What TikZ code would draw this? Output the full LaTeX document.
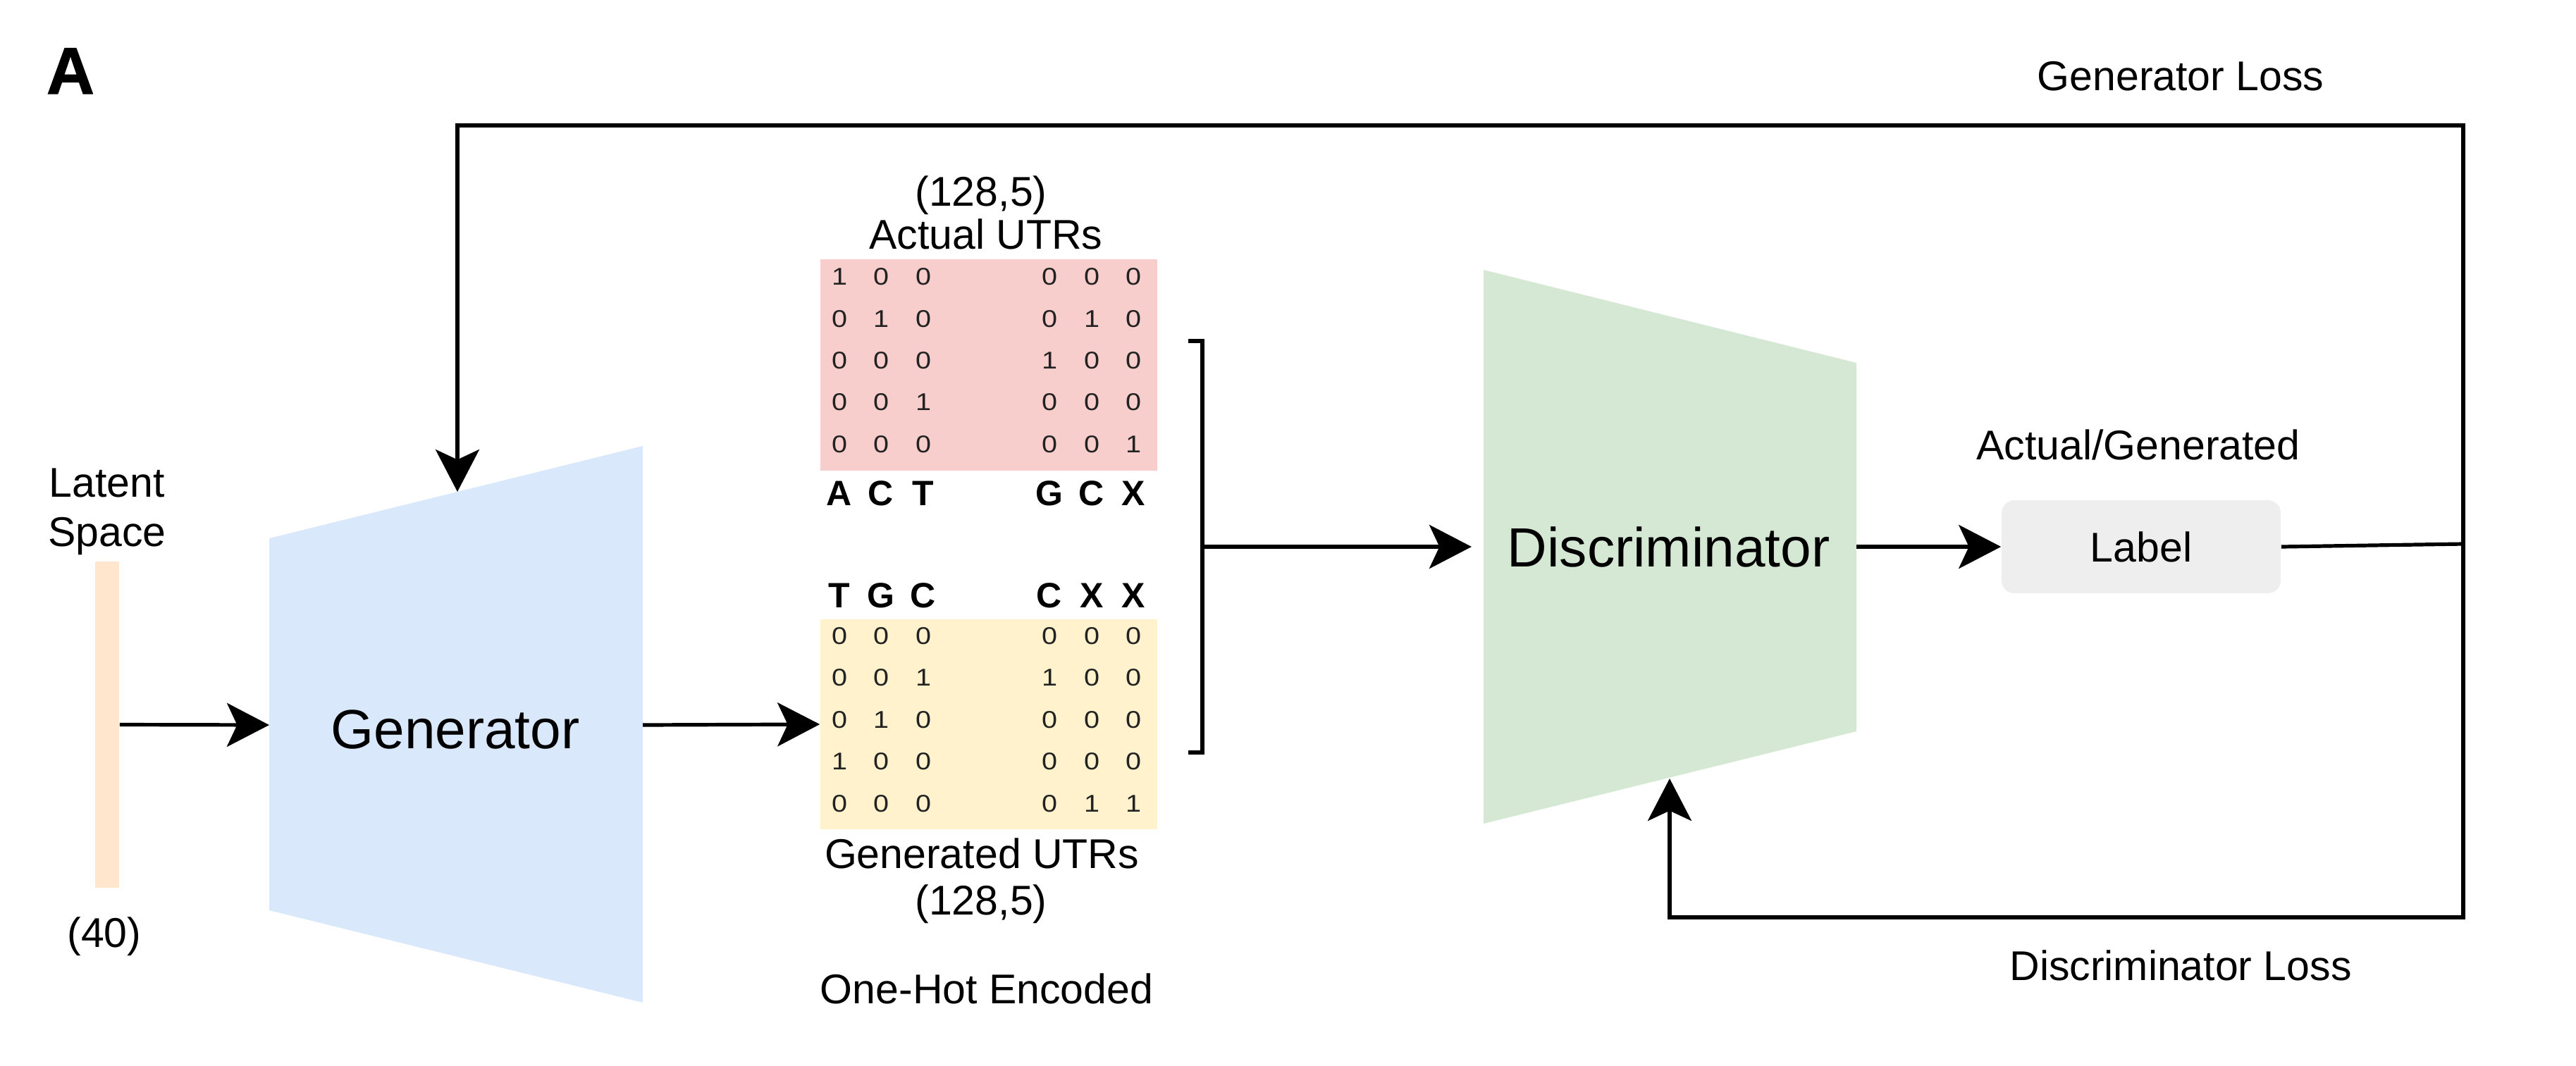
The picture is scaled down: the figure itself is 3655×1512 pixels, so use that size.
\documentclass[tikz,border=0pt]{standalone}
\usepackage{fontspec}
\setmainfont{Liberation Sans}
\newfontfamily\digitfont[FakeStretch=1.15]{Liberation Sans}
\newfontfamily\heavyfont[FakeBold=1.2]{Liberation Sans Bold}
\usetikzlibrary{arrows.meta}
\definecolor{latentc}{HTML}{FFE6CC}
\definecolor{genc}{HTML}{DAE8FC}
\definecolor{discc}{HTML}{D5E8D4}
\definecolor{realc}{HTML}{F8CECC}
\definecolor{fakec}{HTML}{FFF2CC}
\definecolor{labelc}{HTML}{EEEEEE}
\definecolor{digitc}{HTML}{222222}
\begin{document}
\begin{tikzpicture}[x=0.25pt,y=-0.25pt,
  tipstyle/.tip={Stealth[length=15pt,width=15.5pt,inset=3.6pt]},
  conn/.style={line width=1.3pt,-tipstyle},
  wire/.style={line width=1.3pt},
  txt/.style={font=\fontsize{14.75pt}{17pt}\selectfont,inner sep=0pt,anchor=base},
  big/.style={font=\fontsize{19.6pt}{23pt}\selectfont,inner sep=0pt,anchor=base},
  digit/.style={font=\digitfont\fontsize{8.6pt}{9pt}\selectfont,text=digitc,inner sep=0pt},
  nucl/.style={font=\bfseries\fontsize{12.5pt}{14pt}\selectfont,inner sep=0pt,anchor=base},
  matbox/.style={inner sep=0pt,minimum width=119.5pt,minimum height=75pt},
]
\useasboundingbox (0,0) rectangle (3655,1512);

% panel letter
\node[font=\heavyfont\fontsize{23.5pt}{26pt}\selectfont,inner sep=0pt,anchor=base] (panel) at (100,133) {A};

% latent space
\node[fill=latentc,inner sep=0pt,minimum width=8.5pt,minimum height=115.75pt] (latent) at (152,1028.5) {};
\node[txt] (lat1) at (152,705) {Latent};
\node[txt] (lat2) at (152,775) {Space};
\node[txt] (dim40) at (148,1344) {(40)};

% generator
\fill[genc] (382,764) -- (912,633) -- (912,1423) -- (382,1292) -- cycle;
\coordinate (genin) at (382,1029);
\coordinate (genout) at (912,1029);
\coordinate (gentop) at (649,698);
\node[big] (gentext) at (646,1062) {Generator};

% matrices
\node[matbox,fill=realc] (real) at (1403,518) {};
\node[matbox,fill=fakec,minimum height=74.5pt] (fake) at (1403,1028) {};
\node[txt] (realdim) at (1392,292) {(128,5)};
\node[txt] (realtxt) at (1399,353) {Actual UTRs};
\node[txt] (faketxt) at (1393,1232) {Generated UTRs};
\node[txt] (fakedim) at (1392,1298) {(128,5)};
\node[txt] (onehot) at (1400,1424) {One-Hot Encoded};

\foreach \row [count=\ri] in {{1,0,0,0,0,0},{0,1,0,0,1,0},{0,0,0,1,0,0},{0,0,1,0,0,0},{0,0,0,0,0,1}} {
  \pgfmathsetmacro\yy{{393,453,512,571,631}[\ri-1]}
  \foreach \d [count=\ci] in \row {
    \pgfmathsetmacro\xx{{1191,1250,1310,1489,1549,1608}[\ci-1]}
    \node[digit] (r\ri-\ci) at (\xx,\yy) {\d};
  }
}
\foreach \row [count=\ri] in {{0,0,0,0,0,0},{0,0,1,1,0,0},{0,1,0,0,0,0},{1,0,0,0,0,0},{0,0,0,0,1,1}} {
  \pgfmathsetmacro\yy{{903,962,1022,1081,1141}[\ri-1]}
  \foreach \d [count=\ci] in \row {
    \pgfmathsetmacro\xx{{1191,1250,1310,1489,1549,1608}[\ci-1]}
    \node[digit] (f\ri-\ci) at (\xx,\yy) {\d};
  }
}
\foreach \ch [count=\ci] in {A,C,T,G,C,X} {
  \pgfmathsetmacro\xx{{1191,1250,1310,1489,1549,1608}[\ci-1]}
  \node[nucl] (rl\ci) at (\xx,717) {\ch};
}
\foreach \ch [count=\ci] in {T,G,C,C,X,X} {
  \pgfmathsetmacro\xx{{1191,1250,1310,1489,1549,1608}[\ci-1]}
  \node[nucl] (fl\ci) at (\xx,862) {\ch};
}

% bracket
\coordinate (brtl) at (1686,484);
\coordinate (brt) at (1706,484);
\coordinate (brm) at (1706,776);
\coordinate (brb) at (1706,1068);
\coordinate (brbl) at (1686,1068);
\draw[wire] (brtl) -- (brt) -- (brb) -- (brbl);

% discriminator
\fill[discc] (2105,383) -- (2634,515) -- (2634,1038) -- (2105,1169) -- cycle;
\coordinate (discin) at (2088,776);
\coordinate (discout) at (2634,776);
\coordinate (discbot) at (2369,1105);
\node[big] (disctext) at (2367.5,804) {Discriminator};

% label
\node[fill=labelc,rounded corners=4.5pt,inner sep=0pt,minimum width=99pt,minimum height=33pt,font=\fontsize{14.75pt}{17pt}\selectfont] (label) at (3038,776) {Label};
\node[txt] (agtxt) at (3034,652) {Actual/Generated};

% loss labels
\node[txt] (glosstxt) at (3094,128) {Generator Loss};
\node[txt] (dlosstxt) at (3094,1391) {Discriminator Loss};

% connectors
\draw[conn] (latent.east) -- (genin);
\draw[conn] (genout) -- (fake.west);
\draw[conn] (brm) -- (discin);
\draw[conn] (discout) -- (label.west);
\coordinate (rj) at (3495,772);
\coordinate (rt) at (3495,178);
\coordinate (rb) at (3495,1302);
\draw[wire] (label.east) -- (rj);
\draw[wire,tipstyle-tipstyle] (discbot) |- (rb) -- (rt) -| (gentop);
\end{tikzpicture}
\end{document}
